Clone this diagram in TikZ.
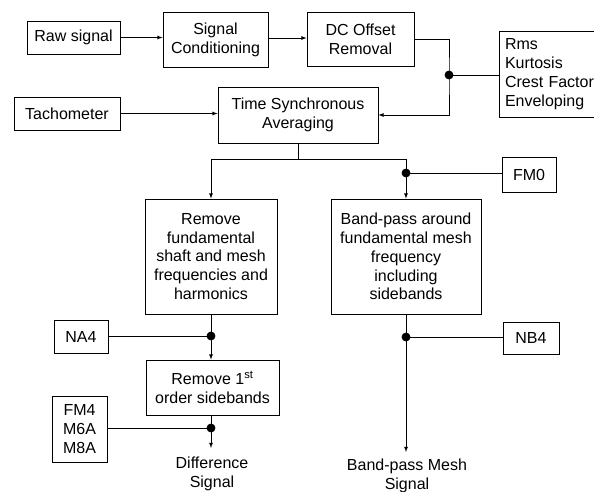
\documentclass[tikz,border=0pt]{standalone}
\usepackage{fontspec}
\setmainfont{Liberation Sans}

\begin{document}
\begin{tikzpicture}[x=1pt,y=-1pt,line width=0.8pt,
    box/.style={draw,rectangle,inner sep=2pt,align=center,font=\fontsize{16}{18.8}\selectfont},
    lbl/.style={align=center,font=\fontsize{16}{18.8}\selectfont}]
    \useasboundingbox (0,0) rectangle (594,492);
    \clip (0,0) rectangle (594,492);

    % first row
    \node[box,minimum width=93,minimum height=33] (raw) at (73.5,37.5) {Raw signal};
    \node[box,minimum width=105,minimum height=55] (cond) at (215.5,39.5) {Signal\\Conditioning};
    \node[box,minimum width=107,minimum height=54] (dc) at (360.5,39) {DC Offset\\Removal};
    \node[box,minimum width=116,minimum height=86,text width=104,align=left,inner sep=6pt] (stats) at (557,74) {Rms\\Kurtosis\\Crest Factor\\Enveloping};

    % averaging
    \node[box,minimum width=106,minimum height=33] (tacho) at (67,113.5) {Tachometer};
    \node[box,minimum width=160,minimum height=56] (tsa) at (298,115) {Time Synchronous\\Averaging};
    \node[box,minimum width=54,minimum height=35] (fm0) at (529,174.5) {FM0};

    % two branches
    \node[box,minimum width=132,minimum height=115] (remf) at (211,256.5) {Remove\\fundamental\\shaft and mesh\\frequencies and\\harmonics};
    \node[box,minimum width=150,minimum height=115] (bpass) at (406,256.5) {Band-pass around\\fundamental mesh\\frequency\\including\\sidebands};
    \node[box,minimum width=54,minimum height=33] (na4) at (81,336.5) {NA4};
    \node[box,minimum width=56,minimum height=32] (nb4) at (531,338) {NB4};
    \node[box,minimum width=133,minimum height=55] (rem1) at (212.5,387.5) {Remove 1\textsuperscript{st}\\order sidebands};
    \node[box,minimum width=55,minimum height=66] (fm4) at (79.5,429) {FM4\\M6A\\M8A};

    \node[lbl] (diff) at (212,474) {Difference\\Signal};
    \node[lbl] (bpm) at (407,476) {Band-pass Mesh\\Signal};

    % junctions
    \coordinate (j1) at (449,75);
    \coordinate (split) at (298,159);
    \coordinate (j2) at (406,173);
    \coordinate (j3) at (211,336);
    \coordinate (j4) at (211,428);
    \coordinate (j5) at (406,337);
    \coordinate (dend) at (211,448);
    \coordinate (bend) at (406,452);

    \draw[-latex] (raw.east) -- (cond.west |- raw.east);
    \draw[-latex] (cond.east |- 0,38) -- (dc.west |- 0,38);
    \draw[-latex] (dc.east) -| (j1) |- (tsa.east);
    \draw (j1) -- (stats.west |- j1);
    \draw[-latex] (tacho.east) -- (tsa.west |- tacho.east);

    \draw (tsa.south) -- (split);
    \draw[-latex] (split) -| (remf.north);
    \draw (split) -| (j2);
    \draw[-latex] (j2) -- (bpass.north);
    \draw (j2) -- (fm0.west |- j2);

    \draw (remf.south) -- (j3);
    \draw[-latex] (j3) -- (j3 |- rem1.north);
    \draw (j3) -- (na4.east |- j3);
    \draw (j4 |- rem1.south) -- (j4);
    \draw[-latex] (j4) -- (dend);
    \draw (j4) -- (fm4.east |- j4);

    \draw (bpass.south) -- (j5);
    \draw[-latex] (j5) -- (bend);
    \draw (j5) -- (nb4.west |- j5);

    \foreach \j in {j1,j2,j3,j4,j5}{
        \filldraw (\j) circle [radius=4];
    }

\end{tikzpicture}
\end{document}
